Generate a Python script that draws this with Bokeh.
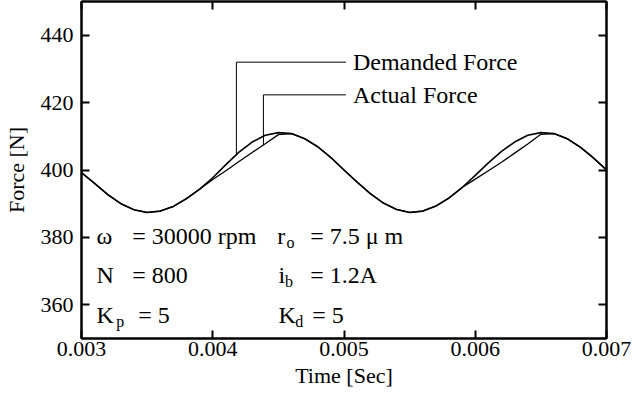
import numpy as np
from bokeh.plotting import figure
from bokeh.models import LinearAxis, FixedTicker, Label, Range1d, CustomJSTickFormatter
from bokeh.embed import file_html
from bokeh.resources import INLINE

# ---------------- data ----------------
time_s = [0.0030, 0.0031, 0.0032, 0.0033, 0.0034, 0.0035, 0.0036, 0.0037, 0.0038, 0.0039,
          0.0040, 0.0041, 0.0042, 0.0043, 0.0044, 0.0045, 0.0046, 0.0047, 0.0048, 0.0049,
          0.0050, 0.0051, 0.0052, 0.0053, 0.0054, 0.0055, 0.0056, 0.0057, 0.0058, 0.0059,
          0.0060, 0.0061, 0.0062, 0.0063, 0.0064, 0.0065, 0.0066, 0.0067, 0.0068, 0.0069,
          0.0070]
demanded_force = [399.2, 396.0, 392.7, 390.0, 388.2, 387.4, 387.8, 389.2, 391.5, 394.3,
                  397.7, 401.6, 405.3, 408.3, 410.3, 411.1, 410.8, 409.3, 406.9, 403.7,
                  400.0, 396.4, 393.0, 390.2, 388.3, 387.4, 387.8, 389.3, 391.7, 394.8,
                  398.4, 402.1, 405.5, 408.3, 410.3, 411.1, 410.8, 409.3, 406.8, 403.6,
                  400.0]
actual_force = [399.2, 396.0, 392.7, 390.0, 388.2, 387.4, 387.8, 389.2, 391.5, 394.3,
                397.2, 399.8, 402.5, 405.2, 407.8, 410.5, 410.8, 409.3, 406.9, 403.7,
                400.0, 396.4, 393.0, 390.2, 388.3, 387.4, 387.8, 389.3, 391.7, 394.8,
                397.3, 399.8, 402.3, 405.0, 407.7, 410.6, 410.8, 409.3, 406.8, 403.6,
                400.0]
x_ticks = [0.003, 0.004, 0.005, 0.006, 0.007]
x_tick_labels = ["0.003", "0.004", "0.005", "0.006", "0.007"]
y_ticks = [360, 380, 400, 420, 440]
y_tick_labels = ["360", "380", "400", "420", "440"]

SERIF = "Liberation Serif"

p = figure(width=633, height=390,
           x_range=Range1d(0.003, 0.007), y_range=Range1d(350, 450),
           output_backend="svg", toolbar_location=None,
           min_border_left=78, min_border_right=27, min_border_top=1, min_border_bottom=0,
           x_axis_label="Time [Sec]", y_axis_label="Force [N]")
p.xgrid.visible = False
p.ygrid.visible = False
p.outline_line_color = "black"
p.outline_line_width = 2
p.background_fill_color = "white"
p.border_fill_color = "white"

LABEL_CODE = """
let best = 0, bd = Infinity;
for (let i = 0; i < tvals.length; i++) {
  const d = Math.abs(tvals[i] - tick);
  if (d < bd) { bd = d; best = i; }
}
return tlabels[best];
"""


def style_axis(ax, ticks, labels=None):
    ax.ticker = FixedTicker(ticks=ticks)
    ax.major_tick_in = 8
    ax.major_tick_out = 0
    ax.minor_tick_in = 0
    ax.minor_tick_out = 0
    ax.major_tick_line_width = 2
    ax.major_tick_line_color = "black"
    ax.axis_line_color = "black"
    ax.axis_line_width = 2
    ax.major_label_text_font = SERIF
    ax.major_label_text_font_size = "22px"
    ax.major_label_text_color = "black"
    ax.axis_label_text_font = SERIF
    ax.axis_label_text_font_size = "22px"
    ax.axis_label_text_font_style = "normal"
    ax.axis_label_text_color = "black"
    if labels is None:
        ax.formatter = CustomJSTickFormatter(code="return ''")
        ax.major_label_text_font_size = "0px"
        ax.major_label_standoff = 0
    else:
        ax.formatter = CustomJSTickFormatter(args=dict(tvals=ticks, tlabels=labels), code=LABEL_CODE)


xa = p.xaxis[0]
style_axis(xa, x_ticks, x_tick_labels)
xa.major_label_standoff = 3
xa.axis_label_standoff = 4

ya = p.yaxis[0]
style_axis(ya, y_ticks, y_tick_labels)
ya.major_label_standoff = 8
ya.axis_label_standoff = 9

top = LinearAxis()
style_axis(top, x_ticks)
p.add_layout(top, "above")
right = LinearAxis()
style_axis(right, y_ticks)
p.add_layout(right, "right")

# curves
p.line(time_s, actual_force, line_color="black", line_width=1.3)
p.line(time_s, demanded_force, line_color="black", line_width=1.6)

# leader lines (attached to the curves by interpolation)
dem_x, dem_top = 0.00418, 432.0
act_x, act_top = 0.004386, 422.3
leader_end = 0.005015
dem_y = float(np.interp(dem_x, time_s, demanded_force))
act_y = float(np.interp(act_x, time_s, actual_force))
p.line([dem_x, dem_x, leader_end], [dem_y, dem_top, dem_top], line_color="black", line_width=1)
p.line([act_x, act_x, leader_end], [act_y, act_top, act_top], line_color="black", line_width=1)

p.add_layout(Label(x=0.005068, y=dem_top, text="Demanded Force", text_font=SERIF,
                   text_font_size="24px", text_baseline="middle", text_color="black"))
p.add_layout(Label(x=0.005068, y=act_top, text="Actual Force", text_font=SERIF,
                   text_font_size="24px", text_baseline="middle", text_color="black"))

# parameter block
params = [
    ("ω", 0.003114, 380.3, "24px"), ("= 30000 rpm", 0.003386, 380.3, "24px"),
    ("N", 0.003114, 368.7, "24px"), ("= 800", 0.003386, 368.7, "24px"),
    ("K", 0.003114, 357.0, "24px"), ("p", 0.003265, 355.1, "16px"), ("= 5", 0.003432, 357.0, "24px"),
    ("r", 0.004492, 380.3, "24px"), ("o", 0.004562, 378.6, "16px"), ("= 7.5 μ m", 0.004742, 380.3, "24px"),
    ("i", 0.004500, 368.7, "24px"), ("b", 0.004550, 367.0, "16px"), ("= 1.2A", 0.004742, 368.7, "24px"),
    ("K", 0.004500, 357.0, "24px"), ("d", 0.004628, 355.1, "16px"), ("= 5", 0.004758, 357.0, "24px"),
]
for txt, x, y, size in params:
    p.add_layout(Label(x=x, y=y, text=txt, text_font=SERIF, text_font_size=size,
                       text_baseline="alphabetic", text_color="black"))

open("out.html", "w").write(file_html(p, INLINE))
